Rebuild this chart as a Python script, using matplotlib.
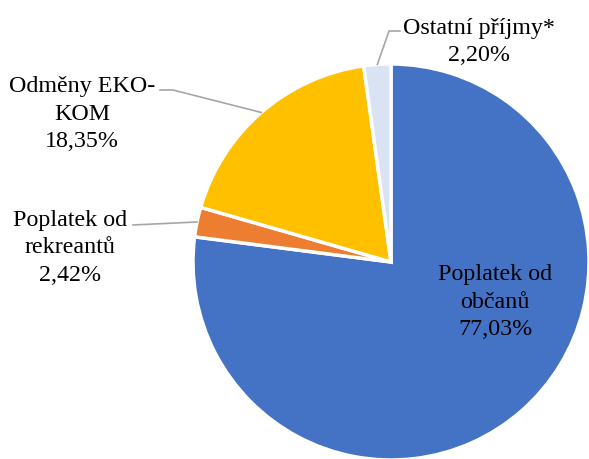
import numpy as np
import matplotlib.pyplot as plt

labels = ["Poplatek od\nobčanů", "Poplatek od\nrekreantů", "Odměny EKO-\nKOM", "Ostatní příjmy*"]
values = [77.03, 2.42, 18.35, 2.20]
colors = ["#4472C4", "#ED7D31", "#FFC000", "#DAE3F3"]

plt.rcParams["font.family"] = ["Liberation Serif", "DejaVu Serif"]

W, H = 589, 460
fig = plt.figure(figsize=(W / 100, H / 100), dpi=100)
ax = fig.add_axes([0, 0, 1, 1])

cx, cy, r = 391, H - 263, 198
wedges, _ = ax.pie(values, colors=colors, startangle=90, counterclock=False,
                   center=(cx, cy), radius=r,
                   wedgeprops=dict(edgecolor="white", linewidth=2.5))
ax.set_xlim(0, W)
ax.set_ylim(0, H)
ax.set_aspect("equal")
ax.axis("off")

def lbl(v, name):
    return f"{name}\n{v:.2f}%".replace(".", ",")

# label positions (layout) and elbow points of leader lines
text_pos = [(495, H - 302), (70, H - 248), (82, H - 114), (479, H - 42)]
elbows = [None, [(133, H - 226)], [(173, H - 91), (160, H - 91)], [(389, H - 32), (400, H - 32)]]

for w, v, name, pos, elb in zip(wedges, values, labels, text_pos, elbows):
    ax.text(pos[0], pos[1], lbl(v, name), ha="center", va="center",
            fontsize=17.3, linespacing=1.4, color="black")
    if elb is None:
        continue
    ang = np.deg2rad((w.theta1 + w.theta2) / 2)
    ax_ = cx + r * np.cos(ang)
    ay_ = cy + r * np.sin(ang)
    xs = [ax_] + [p[0] for p in elb]
    ys = [ay_] + [p[1] for p in elb]
    ax.plot(xs, ys, color="#A6A6A6", lw=1.2)

fig.savefig("out.png", dpi=100)
